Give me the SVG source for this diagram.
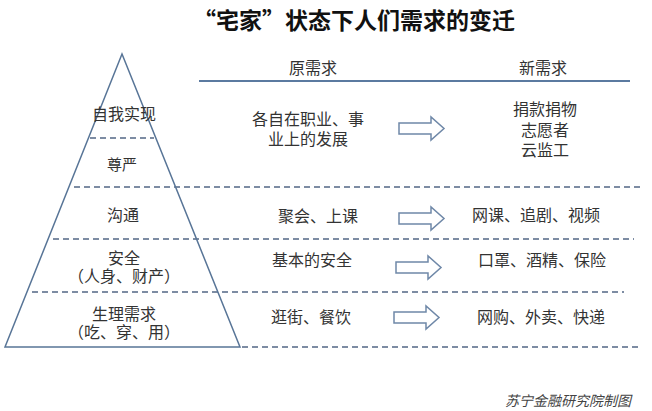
<svg xmlns="http://www.w3.org/2000/svg" width="652" height="411" viewBox="0 0 652 411">
<style>
.t{font-family:"Liberation Sans","Noto Sans CJK SC",sans-serif;fill:#333;font-size:16px;text-anchor:middle}
.title{font-family:"Noto Sans CJK SC","Liberation Sans",sans-serif;fill:#111;font-size:23px;font-weight:bold;text-anchor:middle}
.foot{font-family:"Noto Sans CJK SC","Liberation Sans",sans-serif;fill:#444;font-size:14px;font-style:italic;text-anchor:end}
.dash{stroke:#7d8ca3;stroke-width:2;stroke-dasharray:6 4;fill:none}
.arrow{fill:#fff;stroke:#6f88a8;stroke-width:1.5}
</style>
<rect width="652" height="411" fill="#fff"/>
<text class="title" x="354" y="29">“宅家”状态下人们需求的变迁</text>
<g id="connectors">
<line class="dash" x1="90" y1="138" x2="154" y2="138"/>
<line class="dash" x1="74" y1="187" x2="642" y2="187"/>
<line class="dash" x1="53" y1="239" x2="634" y2="239"/>
<line class="dash" x1="32" y1="292" x2="624" y2="292"/>
<line class="dash" x1="242" y1="347" x2="640" y2="347"/>
<line x1="199" y1="81" x2="630" y2="81" stroke="#5b7aa0" stroke-width="2"/>
</g>
<g id="pyramid">
<polygon points="122,54 5,347 240,347" fill="none" stroke="#587597" stroke-width="1.5"/>
</g>
<g id="headers">
<text class="t" x="313" y="74">原需求</text>
<text class="t" x="543" y="74">新需求</text>
</g>
<g id="level5">
<text class="t" x="124" y="120">自我实现</text>
<text class="t" x="308" y="125">各自在职业、事<tspan x="308" dy="20">业上的发展</tspan></text>
<path class="arrow" d="M399,123 L431,123 L431,117 L444,128.5 L431,140 L431,134 L399,134 Z"/>
<text class="t" x="545" y="115">捐款捐物<tspan x="545" dy="20.5">志愿者</tspan><tspan x="545" dy="20.5">云监工</tspan></text>
</g>
<g id="level4">
<text class="t" x="122" y="170" style="font-size:15px">尊严</text>
</g>
<g id="level3">
<text class="t" x="123" y="221">沟通</text>
<text class="t" x="318" y="222">聚会、上课</text>
<path class="arrow" d="M399,213 L431,213 L431,207 L444,218.5 L431,230 L431,224 L399,224 Z"/>
<text class="t" x="536" y="221">网课、追剧、视频</text>
</g>
<g id="level2">
<text class="t" x="124" y="264">安全<tspan x="124" dy="18">（人身、财产）</tspan></text>
<text class="t" x="312" y="266">基本的安全</text>
<path class="arrow" d="M396,262 L428,262 L428,256 L441,267.5 L428,279 L428,273 L396,273 Z"/>
<text class="t" x="542" y="266">口罩、酒精、保险</text>
</g>
<g id="level1">
<text class="t" x="124" y="320">生理需求<tspan x="124" dy="18">（吃、穿、用）</tspan></text>
<text class="t" x="311" y="323">逛街、餐饮</text>
<path class="arrow" d="M394,312 L426,312 L426,306 L439,317.5 L426,329 L426,323 L394,323 Z"/>
<text class="t" x="541" y="323">网购、外卖、快递</text>
</g>
<text class="foot" x="631" y="406">苏宁金融研究院制图</text>
</svg>
